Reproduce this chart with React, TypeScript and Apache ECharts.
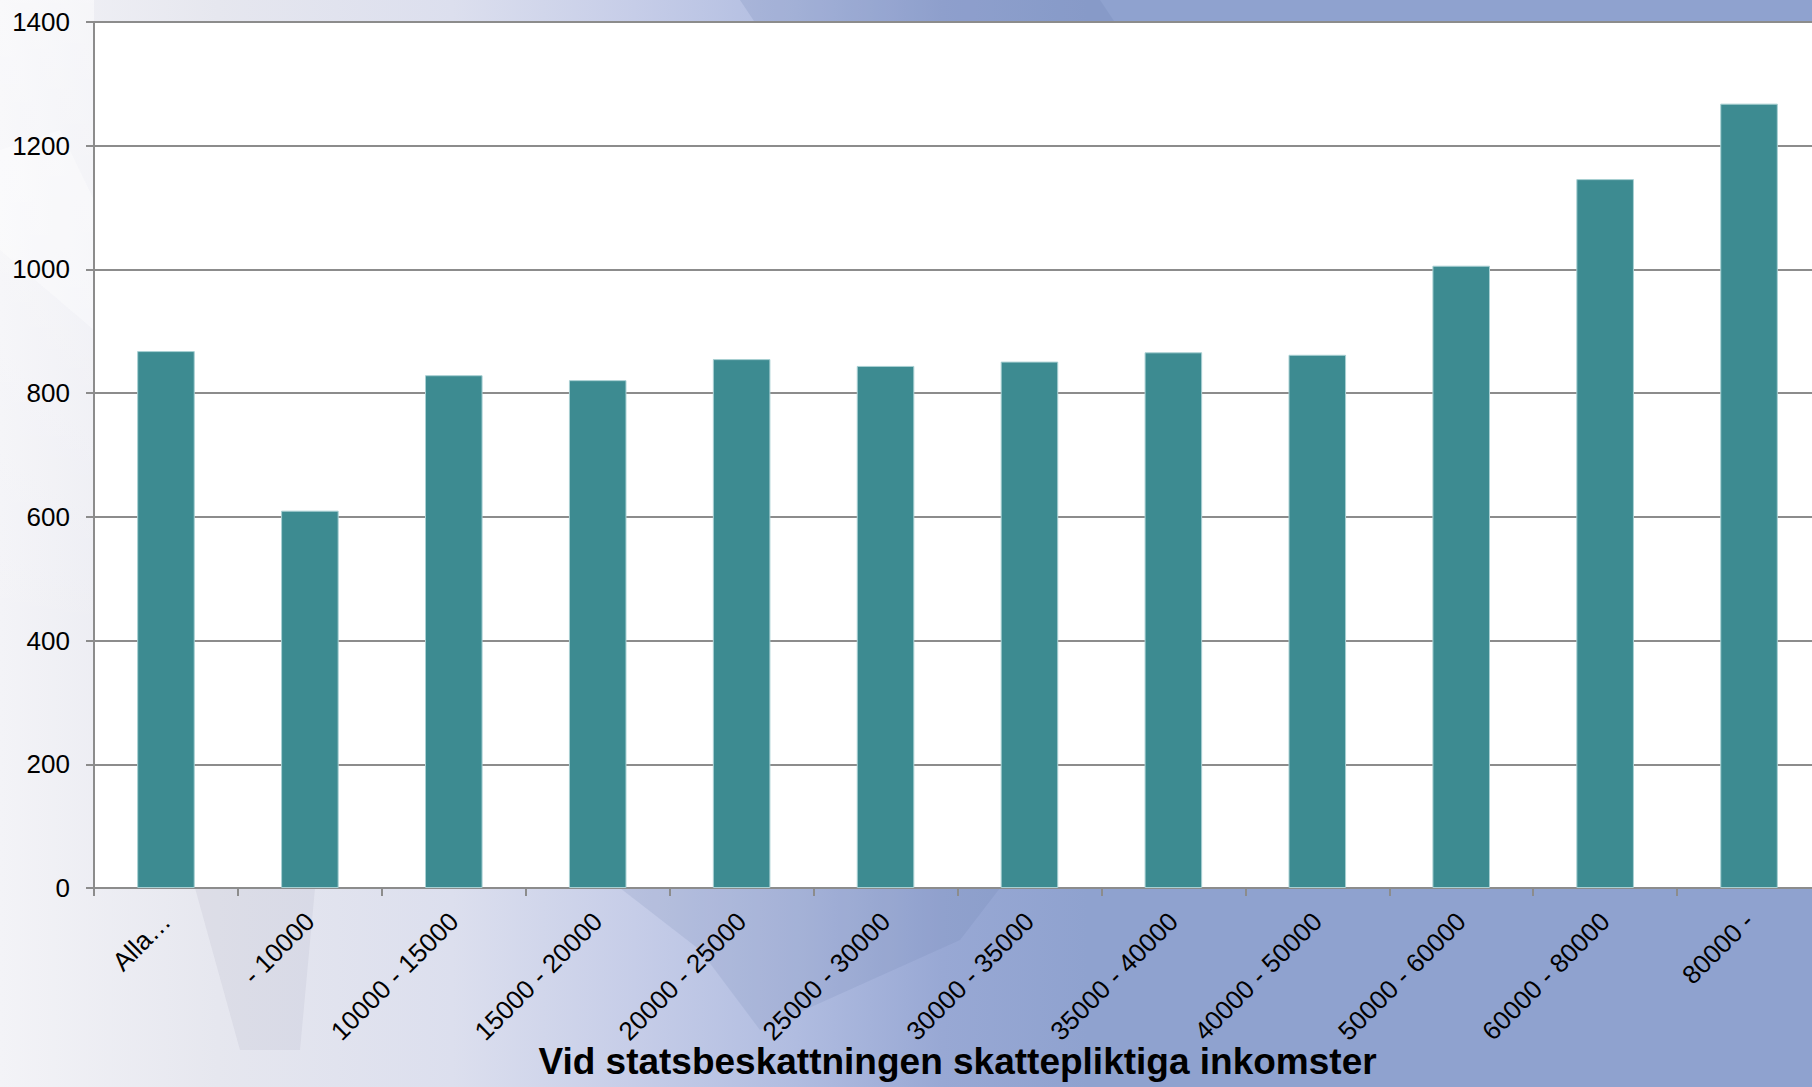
import React, { useEffect, useRef } from "react";
import * as echarts from "echarts";

const categories = [
  "Alla…",
  "- 10000",
  "10000 - 15000",
  "15000 - 20000",
  "20000 - 25000",
  "25000 - 30000",
  "30000 - 35000",
  "35000 - 40000",
  "40000 - 50000",
  "50000 - 60000",
  "60000 - 80000",
  "80000 -",
];
const values = [868, 610, 829, 821, 855, 844, 851, 866, 862, 1006, 1146, 1268];
const yMin = 0;
const yMax = 1400;
const yInterval = 200;
const xTitle = "Vid statsbeskattningen skattepliktiga inkomster";

export default function App() {
  const ref = useRef<HTMLDivElement>(null);
  useEffect(() => {
    if (!ref.current) return;
    const chart = echarts.init(ref.current, null, { renderer: "svg" });
    const font = "'Liberation Sans', Arial, sans-serif";
    chart.setOption({
      animation: false,
      backgroundColor: "transparent",
      graphic: [
        {
          type: "polygon",
          silent: true,
          z: -10,
          shape: { points: [[740, 0], [1100, 0], [1120, 30], [760, 30]] },
          style: { fill: "rgba(100,120,170,0.18)" },
        },
        {
          type: "polygon",
          silent: true,
          z: -10,
          shape: { points: [[620, 888], [1000, 888], [960, 940], [760, 1030], [700, 950]] },
          style: { fill: "rgba(100,120,170,0.15)" },
        },
        {
          type: "polygon",
          silent: true,
          z: -10,
          shape: { points: [[195, 888], [315, 888], [300, 1050], [240, 1050]] },
          style: { fill: "rgba(150,150,170,0.12)" },
        },
        {
          type: "polygon",
          silent: true,
          z: -10,
          shape: { points: [[0, 150], [60, 130], [94, 200], [94, 330], [0, 250]] },
          style: { fill: "rgba(255,255,255,0.35)" },
        },
      ],
      grid: {
        left: 94,
        top: 22,
        right: -9,
        bottom: 199,
        show: true,
        backgroundColor: "#ffffff",
        borderWidth: 0,
        containLabel: false,
        outerBoundsMode: "none",
      },
      xAxis: {
        type: "category",
        data: categories,
        boundaryGap: true,
        axisLine: { show: true, lineStyle: { color: "#8c8c8c", width: 2 } },
        axisTick: { show: true, alignWithLabel: false, length: 8, lineStyle: { color: "#8c8c8c", width: 2 } },
        axisLabel: {
          interval: 0,
          rotate: 45,
          margin: 29,
          color: "#000",
          fontSize: 26,
          fontFamily: font,
        },
        name: xTitle,
        nameLocation: "middle",
        nameGap: 155,
        nameMoveOverlap: false,
        nameTextStyle: {
          color: "#000",
          fontSize: 37,
          fontWeight: "bold",
          fontFamily: font,
        },
      },
      yAxis: {
        type: "value",
        min: yMin,
        max: yMax,
        interval: yInterval,
        axisLine: { show: true, lineStyle: { color: "#8c8c8c", width: 2 } },
        axisTick: { show: true, length: 8, lineStyle: { color: "#8c8c8c", width: 2 } },
        axisLabel: {
          margin: 24,
          color: "#000",
          fontSize: 26,
          fontFamily: font,
          formatter: (v: number) => String(v),
        },
        splitLine: { show: true, lineStyle: { color: "#8c8c8c", width: 2 } },
      },
      series: [
        {
          type: "bar",
          data: values,
          barWidth: "40%",
          itemStyle: { color: "#3d8b91", borderColor: "#a9d0d3", borderWidth: 1 },
        },
      ],
    });
    return () => chart.dispose();
  }, []);
  return (
    <div
      style={{
        position: "absolute",
        left: 0,
        top: 0,
        width: 1812,
        height: 1087,
        overflow: "hidden",
        background:
          "linear-gradient(180deg, rgba(255,255,255,0.5) 0%, rgba(255,255,255,0) 60%) 0 0 / 94px 100% no-repeat, linear-gradient(90deg, #f3f3f7 0%, #e6e7ef 12%, #dcdfee 25%, #c6cde8 35%, #b0bce0 44%, #98a8d4 52%, #8fa2cf 60%, #8fa2cf 100%)",
      }}
    >
      <div ref={ref} style={{ width: 1812, height: 1087 }} />
    </div>
  );
}
